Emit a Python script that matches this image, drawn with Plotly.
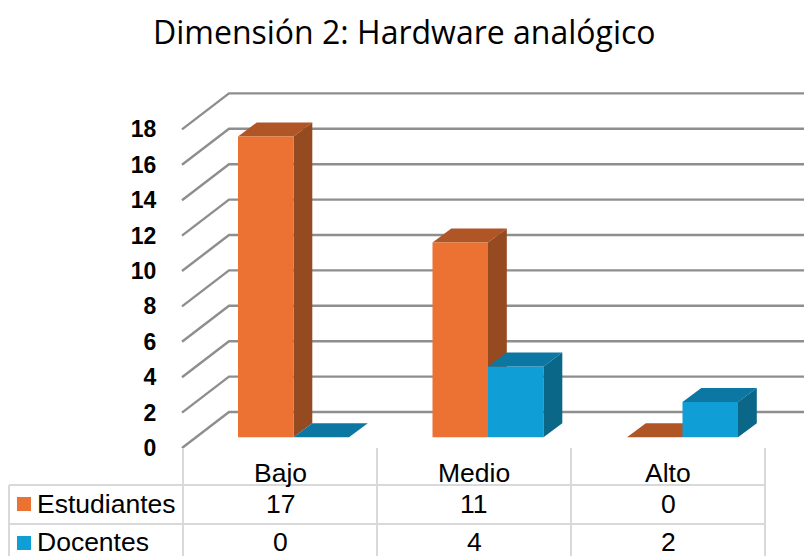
import plotly.graph_objects as go

# ---- data ----
categories = ["Bajo", "Medio", "Alto"]
estudiantes = [17, 11, 0]
docentes = [0, 4, 2]
y_ticks = [0, 2, 4, 6, 8, 10, 12, 14, 16, 18]
title_text = "Dimensión 2: Hardware analógico"

# ---- layout constants (pixels) ----
W, H = 804, 556
UNIT_Y = 17.7
UNIT_X = 194.5
BAR_ZERO_X = 293.5     # centre of first bar pair
WALL_ZERO_Y = 448.0    # value 0 on the front edge of the side wall
BAR_ZERO_Y = 437.3     # value 0 on the front of the bars
AXIS_X = 182.0
BACK_DX, BACK_DY = 47.0, 36.0
DEPTH_DX, DEPTH_DY = 18.8, 14.0
BAR_W = 55.5

ORANGE, ORANGE_TOP, ORANGE_SIDE = "#EB7233", "#B05526", "#954A20"
BLUE, BLUE_TOP, BLUE_SIDE = "#0F9ED6", "#0C77A2", "#0A6788"
GRID = "#8E8E8E"
TABLE = "#D9D9D9"
FONT = "Liberation Sans"


def px_x(p):
    return (p - BAR_ZERO_X) / UNIT_X


def y_range(zero):
    return [-(H - zero) / UNIT_Y, zero / UNIT_Y]


x_range = [px_x(0), px_x(W)]
dx = DEPTH_DX / UNIT_X
dy = DEPTH_DY / UNIT_Y
bw = BAR_W / UNIT_X

fig = go.Figure()

# grid lines: side wall + back wall, one per tick
gx, gy = [], []
for t in y_ticks:
    gx += [px_x(AXIS_X), px_x(AXIS_X + BACK_DX), px_x(W + 5), None]
    gy += [t, t + BACK_DY / UNIT_Y, t + BACK_DY / UNIT_Y, None]
fig.add_trace(go.Scatter(x=gx, y=gy, mode="lines", yaxis="y",
                         line=dict(color=GRID, width=2.4),
                         hoverinfo="skip", showlegend=False))


def faces(values, offset, top_color, side_color, yaxis):
    for i, v in enumerate(values):
        left = i + offset * bw
        right = left + bw
        # top face
        fig.add_trace(go.Scatter(
            x=[left, left + dx, right + dx, right, left],
            y=[v, v + dy, v + dy, v, v],
            mode="lines", fill="toself", fillcolor=top_color,
            line=dict(width=0), yaxis=yaxis, hoverinfo="skip", showlegend=False))
        # side face
        if v > 0:
            fig.add_trace(go.Scatter(
                x=[right, right + dx, right + dx, right, right],
                y=[0, dy, v + dy, v, 0],
                mode="lines", fill="toself", fillcolor=side_color,
                line=dict(width=0), yaxis=yaxis, hoverinfo="skip", showlegend=False))


# orange depth faces lie behind every front face
faces(estudiantes, -1, ORANGE_TOP, ORANGE_SIDE, "y2")

# front faces
xs = list(range(len(categories)))
fig.add_trace(go.Bar(x=xs, y=estudiantes, name="Estudiantes", yaxis="y3",
                     marker=dict(color=ORANGE, line=dict(width=0)),
                     customdata=categories, hovertemplate="%{customdata}: %{y}<extra>Estudiantes</extra>"))
fig.add_trace(go.Bar(x=xs, y=docentes, name="Docentes", yaxis="y3",
                     marker=dict(color=BLUE, line=dict(width=0)),
                     customdata=categories, hovertemplate="%{customdata}: %{y}<extra>Docentes</extra>"))

# blue depth faces sit in front of the orange ones
faces(docentes, 0, BLUE_TOP, BLUE_SIDE, "y3")

shapes = []


def line(x0, y0, x1, y1):
    shapes.append(dict(type="line", xref="paper", yref="paper",
                       x0=x0 / W, x1=x1 / W, y0=1 - y0 / H, y1=1 - y1 / H,
                       line=dict(color=TABLE, width=2)))


COLS = [183, 377, 571, 765]
for c in COLS:
    line(c, 448, c, H)
line(9, 485, 9, H)
line(9, 485, 765, 485)
line(9, 524, 765, 524)

for color, top in ((ORANGE, 497), (BLUE, 536)):
    shapes.append(dict(type="rect", xref="paper", yref="paper",
                       x0=17 / W, x1=31 / W, y0=1 - top / H, y1=1 - (top + 14) / H,
                       fillcolor=color, line=dict(width=0)))

annotations = []


def text(s, x, y, anchor="center", size=26.5, bold=False, family=FONT):
    annotations.append(dict(text=f"<b>{s}</b>" if bold else s,
                            xref="paper", yref="paper", x=x / W, y=1 - y / H,
                            xanchor=anchor, yanchor="middle", showarrow=False,
                            font=dict(family=family, size=size, color="#000000")))


CENTRES = [280, 474, 668]
for c, cat, e, d in zip(CENTRES, categories, estudiantes, docentes):
    text(cat, c, 473)
    text(str(e), c, 504)
    text(str(d), c, 542)
text("Estudiantes", 35, 504, anchor="left")
text("Docentes", 35, 542, anchor="left")
text(title_text, 404, 32, size=32, family="Open Sans")

fig.update_layout(
    width=W, height=H, margin=dict(l=0, r=0, t=0, b=0),
    paper_bgcolor="white", plot_bgcolor="white",
    barmode="group", bargap=1 - 2 * BAR_W / UNIT_X, bargroupgap=0,
    showlegend=False, shapes=shapes, annotations=annotations,
    xaxis=dict(range=x_range, visible=False, fixedrange=True),
    yaxis=dict(range=y_range(WALL_ZERO_Y), tickvals=y_ticks, showgrid=False, zeroline=False,
               anchor="free", position=AXIS_X / W, ticks="outside", ticklen=21,
               tickcolor="rgba(0,0,0,0)", showline=False, fixedrange=True,
               tickfont=dict(family=FONT, size=23, color="#000000", weight="bold")),
    yaxis2=dict(range=y_range(BAR_ZERO_Y), overlaying="y", visible=False, fixedrange=True),
    yaxis3=dict(range=y_range(BAR_ZERO_Y), overlaying="y", visible=False, fixedrange=True),
)
fig.write_html("out.html", config=dict(displayModeBar=False),
               post_script="document.body.style.margin='0';document.body.style.overflow='hidden';")
